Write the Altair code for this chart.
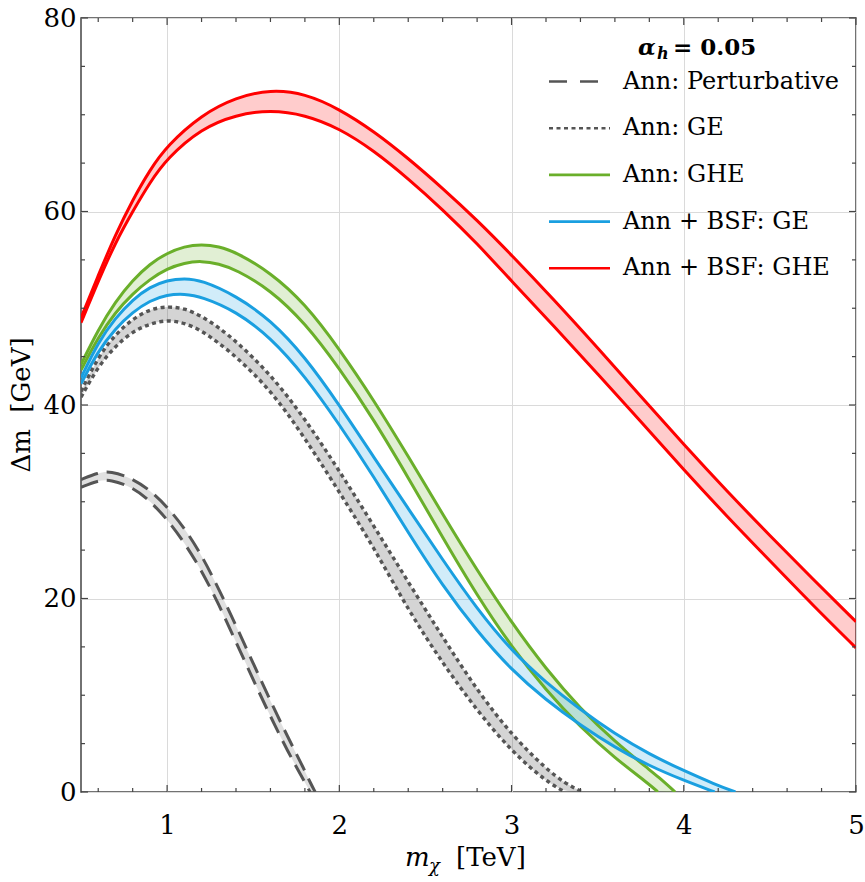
import altair as alt
import pandas as pd

# ---------------------------------------------------------------
# Band edges: dark-matter mass m_chi [TeV] -> mass splitting [GeV]
# ---------------------------------------------------------------
pert_x = [0.5, 0.6, 0.67, 0.8, 0.9, 1.0, 1.1, 1.2, 1.3, 1.4, 1.5, 1.6, 1.7, 1.8, 1.83, 1.86]
pert_hi = [32.3, 33.0, 33.2, 32.4, 31.2, 29.5, 27.3, 24.5, 21.0, 17.2, 13.3, 9.4, 5.7, 2.2, 1.0, 0.0]
pert_lo = [31.5, 32.2, 32.3, 31.5, 30.1, 28.2, 25.8, 22.9, 19.4, 15.5, 11.6, 7.8, 4.2, 1.0, 0.0, 0.0]

ge_x = [0.5, 0.6, 0.7, 0.8, 0.9, 1.0, 1.1, 1.2, 1.3, 1.4, 1.6, 1.8, 2.0, 2.2, 2.4, 2.6, 2.8, 3.0, 3.2, 3.31, 3.41]
ge_hi = [41.4, 45.0, 47.3, 48.9, 49.9, 50.2, 50.0, 49.2, 48.0, 46.6, 43.2, 38.6, 33.2, 27.5, 21.7, 16.0, 10.5, 5.9, 2.4, 0.9, 0.0]
ge_lo = [40.8, 44.0, 46.1, 47.6, 48.4, 48.8, 48.5, 47.7, 46.4, 45.0, 41.6, 36.6, 31.0, 25.3, 18.8, 13.3, 8.4, 4.2, 1.1, 0.0, 0.0]

ghe_x = [0.5, 0.6, 0.7, 0.8, 0.9, 1.0, 1.1, 1.2, 1.3, 1.4, 1.6, 1.8, 2.0, 2.2, 2.4, 2.6, 2.8, 3.0, 3.2, 3.4, 3.6, 3.8, 3.85, 3.95]
ghe_hi = [44.2, 47.8, 50.7, 52.9, 54.6, 55.7, 56.4, 56.6, 56.4, 55.8, 53.7, 50.5, 45.8, 40.5, 34.7, 28.7, 22.9, 17.5, 12.7, 8.6, 5.2, 2.3, 1.6, 0.0]
ghe_lo = [43.6, 47.0, 49.6, 51.5, 53.0, 54.1, 54.7, 54.9, 54.6, 54.0, 51.9, 48.5, 43.8, 38.5, 32.5, 26.3, 20.3, 15.0, 10.5, 6.7, 3.5, 0.8, 0.0, 0.0]

bsf_ge_x = [0.5, 0.6, 0.7, 0.8, 0.9, 1.0, 1.1, 1.2, 1.4, 1.6, 1.8, 2.0, 2.2, 2.4, 2.6, 2.8, 3.0, 3.2, 3.4, 3.6, 3.8, 4.0, 4.18, 4.3]
bsf_ge_hi = [42.8, 46.5, 49.0, 50.9, 52.2, 52.9, 53.1, 52.9, 51.3, 48.8, 45.0, 40.0, 34.6, 29.3, 24.0, 18.9, 14.6, 11.3, 8.5, 6.0, 3.9, 2.2, 0.8, 0.0]
bsf_ge_lo = [42.2, 45.6, 47.9, 49.6, 50.8, 51.4, 51.5, 51.2, 49.7, 47.0, 43.0, 38.0, 32.6, 26.8, 21.3, 16.6, 12.6, 9.5, 6.9, 4.6, 2.7, 1.2, 0.0, 0.0]

bsf_ghe_x = [0.5, 0.6, 0.7, 0.8, 0.9, 1.0, 1.2, 1.4, 1.6, 1.8, 2.0, 2.2, 2.4, 2.6, 2.8, 3.0, 3.25, 3.5, 3.75, 4.0, 4.25, 4.5, 4.75, 5.0]
bsf_ghe_hi = [49.0, 53.4, 57.6, 61.2, 64.3, 66.8, 70.0, 71.8, 72.6, 72.2, 70.6, 68.3, 65.5, 62.4, 59.1, 55.5, 50.8, 45.9, 40.9, 35.9, 31.1, 26.5, 22.0, 17.6]
bsf_ghe_lo = [48.5, 52.8, 56.8, 60.0, 63.0, 65.5, 68.6, 70.0, 70.5, 70.0, 68.6, 66.3, 63.4, 60.2, 56.7, 52.8, 48.1, 43.2, 38.3, 33.3, 28.5, 23.9, 19.3, 14.9]

series_names = ["Ann: Perturbative", "Ann: GE", "Ann: GHE", "Ann + BSF: GE", "Ann + BSF: GHE"]

x_major = [1, 2, 3, 4, 5]
x_minor = [0.6, 0.8, 1.2, 1.4, 1.6, 1.8, 2.2, 2.4, 2.6, 2.8, 3.2, 3.4, 3.6, 3.8, 4.2, 4.4, 4.6, 4.8]
y_major = [0, 20, 40, 60, 80]
y_minor = [5, 10, 15, 25, 30, 35, 45, 50, 55, 65, 70, 75]

# ---------------------------------------------------------------
# Styling
# ---------------------------------------------------------------
W, H = 775, 774
FONT = "DejaVu Serif"
FRAME = "#444444"
GRAY = "#555555"
GREEN = "#6aaf2a"
BLUE = "#1a9fe0"
RED = "#ff0000"
CURVE = "basis"

styles = {
    "Ann: Perturbative": dict(color=GRAY, dash=[18, 9], fill=GRAY, fill_op=0.18, width=3),
    "Ann: GE": dict(color=GRAY, dash=[4, 3.5], fill=GRAY, fill_op=0.25, width=3.4),
    "Ann: GHE": dict(color=GREEN, dash=None, fill=GREEN, fill_op=0.2, width=3),
    "Ann + BSF: GE": dict(color=BLUE, dash=None, fill=BLUE, fill_op=0.2, width=3),
    "Ann + BSF: GHE": dict(color=RED, dash=None, fill=RED, fill_op=0.2, width=3),
}

bands = [
    ("Ann: Perturbative", pert_x, pert_hi, pert_lo),
    ("Ann: GE", ge_x, ge_hi, ge_lo),
    ("Ann: GHE", ghe_x, ghe_hi, ghe_lo),
    ("Ann + BSF: GE", bsf_ge_x, bsf_ge_hi, bsf_ge_lo),
    ("Ann + BSF: GHE", bsf_ghe_x, bsf_ghe_hi, bsf_ghe_lo),
]

xscale = alt.Scale(domain=[0.5, 5], nice=False, zero=False)
yscale = alt.Scale(domain=[0, 80], nice=False)
xaxis = alt.Axis(values=x_major, grid=True, ticks=False, domain=False, title=None,
                 labelFlush=False, labelPadding=20, format="d")
yaxis = alt.Axis(values=y_major, grid=True, ticks=False, domain=False, title=None,
                 labelFlush=False, labelPadding=5, format="d")


def X(field):
    return alt.X(field, type="quantitative", scale=xscale, axis=xaxis)


def Y(field):
    return alt.Y(field, type="quantitative", scale=yscale, axis=yaxis)


layers = []

# filled bands
for name, xs, hi, lo in bands:
    st = styles[name]
    df = pd.DataFrame({"m": xs, "hi": hi, "lo": lo})
    layers.append(
        alt.Chart(df).mark_area(interpolate=CURVE, color=st["fill"],
                                opacity=st["fill_op"], clip=True)
        .encode(x=X("m"), y=Y("lo"), y2="hi")
    )

# band edges
for name, xs, hi, lo in bands:
    st = styles[name]
    stop = lo.index(0.0) + 1 if 0.0 in lo else len(lo)
    edges = [
        pd.DataFrame({"m": xs, "d": hi}),
        pd.DataFrame({"m": xs[:stop], "d": lo[:stop]}),
    ]
    for df in edges:
        kw = dict(interpolate=CURVE, color=st["color"], strokeWidth=st["width"], clip=True)
        if st["dash"]:
            kw["strokeDash"] = st["dash"]
        layers.append(alt.Chart(df).mark_line(**kw).encode(x=X("m"), y=Y("d")))

# inward ticks on all four sides of the frame
for vals, length in ((x_major, 7), (x_minor, 4)):
    df = pd.DataFrame({"v": vals})
    layers.append(alt.Chart(df).mark_rule(color=FRAME, strokeWidth=1.2)
                  .encode(x=X("v"), y=alt.value(H), y2=alt.value(H - length)))
    layers.append(alt.Chart(df).mark_rule(color=FRAME, strokeWidth=1.2)
                  .encode(x=X("v"), y=alt.value(0), y2=alt.value(length)))
for vals, length in ((y_major, 7), (y_minor, 4)):
    df = pd.DataFrame({"v": vals})
    layers.append(alt.Chart(df).mark_rule(color=FRAME, strokeWidth=1.2)
                  .encode(y=Y("v"), x=alt.value(0), x2=alt.value(length)))
    layers.append(alt.Chart(df).mark_rule(color=FRAME, strokeWidth=1.2)
                  .encode(y=Y("v"), x=alt.value(W), x2=alt.value(W - length)))


def text_layer(txt, x, y, size, **kw):
    df = pd.DataFrame({"t": [txt]})
    return (alt.Chart(df).mark_text(font=FONT, fontSize=size, color="black", **kw)
            .encode(x=alt.value(x), y=alt.value(y), text="t:N"))


# legend
leg_x0, leg_x1, leg_tx = 468, 529, 542
row0, row_gap = 63.5, 46.7
layers.append(text_layer("α", 557, 36.5, 23, fontStyle="italic", fontWeight="bold",
                         align="left", baseline="alphabetic"))
layers.append(text_layer("h", 576, 41, 16, fontStyle="italic", fontWeight="bold",
                         align="left", baseline="alphabetic"))
layers.append(text_layer("= 0.05", 592, 36.5, 23, fontWeight="bold",
                         align="left", baseline="alphabetic"))
for i, name in enumerate(series_names):
    st = styles[name]
    ry = row0 + i * row_gap
    kw = dict(color=st["color"], strokeWidth=2.6)
    if st["dash"]:
        kw["strokeDash"] = [18, 13] if name == "Ann: Perturbative" else [4, 3.5]
    df = pd.DataFrame({"t": [name]})
    layers.append(alt.Chart(df).mark_rule(**kw)
                  .encode(x=alt.value(leg_x0), x2=alt.value(leg_x1), y=alt.value(ry)))
    layers.append(text_layer(name, leg_tx, ry, 24, align="left", baseline="middle"))

# axis titles
layers.append(text_layer("m", 324, 848, 26, fontStyle="italic", align="left", baseline="alphabetic"))
layers.append(text_layer("χ", 348, 854, 18, fontStyle="italic", align="left", baseline="alphabetic"))
layers.append(text_layer("[TeV]", 375, 848, 26, align="left", baseline="alphabetic"))
layers.append(text_layer("Δm \u00a0[GeV]", -59, 387, 26, angle=270, align="center", baseline="middle"))

chart = (
    alt.layer(*layers)
    .properties(width=W, height=H,
                autosize=alt.AutoSizeParams(type="none"),
                padding={"left": 81, "top": 18, "right": 9, "bottom": 90},
                background="white")
    .configure_view(stroke=FRAME, strokeWidth=1.5)
    .configure_axis(labelFont=FONT, labelFontSize=26, labelColor="black",
                    gridColor="#dadada", gridWidth=1)
)

chart.save("out.html", embed_options={"renderer": "svg", "actions": False})
